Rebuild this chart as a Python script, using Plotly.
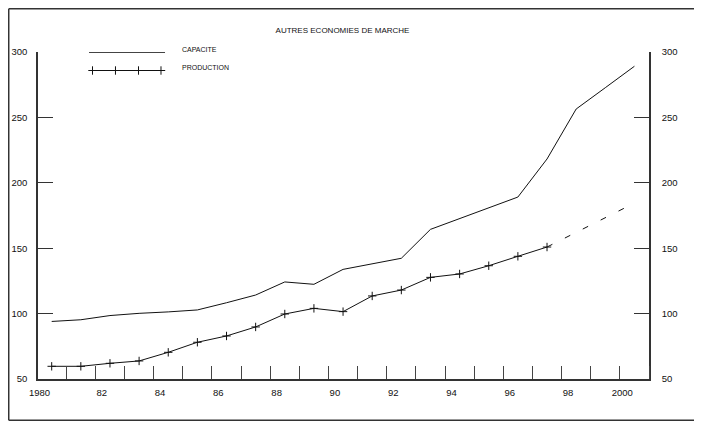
import plotly.graph_objects as go

# ---- data ----
years = list(range(1980, 2001))
capacite = [94, 95.3, 98.5, 100.2, 101.3, 102.8, 108.3, 114.2, 124.2, 122.4,
            133.8, 138, 142.3, 164.4, 172.6, 180.8, 189.1, 218.2, 256.4, 272.7, 289.1]
prod_years = list(range(1980, 1998))
production = [59.7, 59.7, 62, 63.8, 70.4, 78.1, 82.9, 89.8, 99.7, 104,
              101.5, 113.5, 118, 127.7, 130.3, 136.6, 143.8, 150.9]
proj_years = [1997, 2000]
projection = [150.9, 184.5]

x_tick_years = [1980, 1982, 1984, 1986, 1988, 1990, 1992, 1994, 1996, 1998, 2000]
x_tick_text = ["1980", "82", "84", "86", "88", "90", "92", "94", "96", "98", "2000"]
y_ticks = [50, 100, 150, 200, 250, 300]

title_text = "AUTRES ECONOMIES DE MARCHE"
legend_names = ["CAPACITE", "PRODUCTION"]

FONT = "Liberation Sans, Arial, sans-serif"
INK = "#111111"
AX = "#333333"

# label positions: labels sit a little left of the year positions
x_tick_pos = [y - (0.42 if len(t) == 4 else 0.28) for y, t in zip(x_tick_years, x_tick_text)]

fig = go.Figure()

fig.add_trace(go.Scatter(x=years, y=capacite, mode="lines",
                         line=dict(color=INK, width=1), showlegend=False, hoverinfo="skip"))
fig.add_trace(go.Scatter(x=prod_years, y=production, mode="lines+markers",
                         line=dict(color=INK, width=1),
                         marker=dict(symbol="cross-thin", size=6, line=dict(color=INK, width=1)),
                         showlegend=False, hoverinfo="skip"))
fig.add_trace(go.Scatter(x=proj_years, y=projection, mode="lines",
                         line=dict(color=INK, width=1, dash="6px,14px"),
                         showlegend=False, hoverinfo="skip"))
# invisible trace so the right-hand axis is drawn
fig.add_trace(go.Scatter(x=years, y=capacite, mode="lines", yaxis="y2",
                         line=dict(width=0), opacity=0, showlegend=False, hoverinfo="skip"))

# manual legend (in plot-area fractions on hidden overlay axes)
leg_x0, leg_x1 = 0.0835, 0.2079
leg_y = [0.9991, 0.9434]
leg_marks = [0.0892, 0.1268, 0.1645, 0.2013]
fig.add_trace(go.Scatter(x=[leg_x0, leg_x1], y=[leg_y[0]] * 2, mode="lines",
                         line=dict(color=INK, width=1), xaxis="x3", yaxis="y3",
                         showlegend=False, hoverinfo="skip", cliponaxis=False))
fig.add_trace(go.Scatter(x=[leg_x0, leg_x1], y=[leg_y[1]] * 2, mode="lines",
                         line=dict(color=INK, width=1), xaxis="x3", yaxis="y3",
                         showlegend=False, hoverinfo="skip", cliponaxis=False))
fig.add_trace(go.Scatter(x=leg_marks, y=[leg_y[1]] * len(leg_marks), mode="markers",
                         marker=dict(symbol="cross-thin", size=6, line=dict(color=INK, width=1)),
                         xaxis="x3", yaxis="y3", showlegend=False, hoverinfo="skip",
                         cliponaxis=False))

fig.add_annotation(x=0.2324, y=1.0076, xref="paper", yref="paper", text=legend_names[0],
                   showarrow=False, xanchor="left", yanchor="middle",
                   font=dict(family=FONT, size=7, color=INK))
fig.add_annotation(x=0.2324, y=0.9541, xref="paper", yref="paper", text=legend_names[1],
                   showarrow=False, xanchor="left", yanchor="middle",
                   font=dict(family=FONT, size=7, color=INK))

# outer frame: left, top and bottom edges only (right edge is off the page)
fx0, fx1, fy0, fy1 = -0.0479, 1.3, -0.1261, 1.1323
frame_line = dict(color="#333333", width=1.5)
for x0, y0, x1, y1 in [(fx0, fy0, fx0, fy1), (fx0, fy1, fx1, fy1), (fx0, fy0, fx1, fy0)]:
    fig.add_shape(type="line", xref="paper", yref="paper", x0=x0, y0=y0, x1=x1, y1=y1,
                  line=frame_line, layer="below")

# page body has an 8px margin: the figure is made 16px smaller so no scrollbars appear
fig.update_layout(
    width=686, height=413,
    margin=dict(l=30, r=45, t=44, b=42, autoexpand=False),
    paper_bgcolor="white", plot_bgcolor="white",
    font=dict(family=FONT, size=9.5, color=INK),
    title=dict(text=title_text, x=0.4876, y=0.9467, xanchor="center", yanchor="middle",
               font=dict(family=FONT, size=8, color=INK)),
    xaxis=dict(range=[1979.53, 2000.5], showgrid=False, zeroline=False, automargin=False,
               showline=True, linecolor=AX, linewidth=1.5,
               tickmode="array", tickvals=x_tick_pos, ticktext=x_tick_text,
               ticks="", ticklabelstandoff=4,
               minor=dict(tickmode="linear", tick0=1980.5, dtick=1, ticks="inside",
                          ticklen=13, tickwidth=1, tickcolor="#444444", showgrid=False)),
    yaxis=dict(range=[50, 300], showgrid=False, zeroline=False, automargin=False,
               showline=True, linecolor=AX, linewidth=1.5,
               tickmode="array", tickvals=y_ticks, ticks="inside", ticklen=15,
               tickwidth=1.3, tickcolor=AX, ticklabelstandoff=7),
    yaxis2=dict(range=[50, 300], overlaying="y", side="right", anchor="x", automargin=False,
                showgrid=False, zeroline=False,
                showline=True, linecolor=AX, linewidth=1.5,
                tickmode="array", tickvals=y_ticks, ticks="inside", ticklen=15,
                tickwidth=1.3, tickcolor=AX, ticklabelstandoff=9),
    xaxis3=dict(range=[0, 1], overlaying="x", visible=False, automargin=False),
    yaxis3=dict(range=[0, 1], overlaying="y", visible=False, automargin=False),
)

fig.write_html("out.html")
